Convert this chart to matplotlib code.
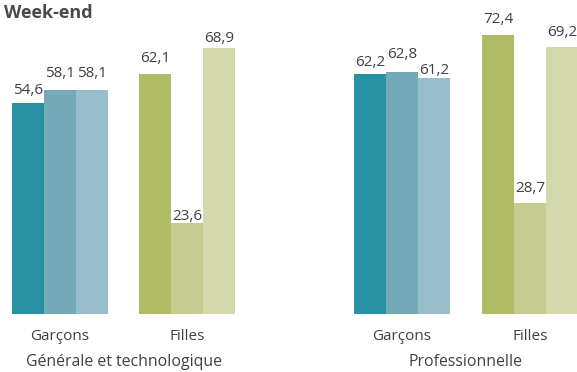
import matplotlib
matplotlib.use("Agg")
import matplotlib.pyplot as plt
from matplotlib.transforms import blended_transform_factory

# ---- data ----
groups = ["Générale et technologique", "Professionnelle"]
sexes = ["Garçons", "Filles"]
garcons_gt = [54.6, 58.1, 58.1]
filles_gt = [62.1, 23.6, 68.9]
garcons_pro = [62.2, 62.8, 61.2]
filles_pro = [72.4, 28.7, 69.2]
title = "Week-end"

# ---- style / layout ----
plt.rcParams['font.family'] = ['Open Sans', 'DejaVu Sans']
blues = ["#2890a3", "#74a9b8", "#9abdcc"]
greens = ["#b0bb66", "#c6cb8f", "#d4d9ac"]
text_col = "#404040"

W, H = 577, 372
fig = plt.figure(figsize=(W / 100, H / 100), dpi=100)
base_px = 314
scale = 3.86  # px per unit
ax = fig.add_axes([0, (H - base_px) / H, 1, base_px / H])
ax.set_xlim(0, W)
ax.set_ylim(0, base_px / scale)
ax.axis("off")

slot = 32
centers = [60, 187, 402, 530]
series = [garcons_gt, filles_gt, garcons_pro, filles_pro]
palettes = [blues, greens, blues, greens]
# label baseline gap above bar top, in px (layout)
gaps = [[9, 13, 13], [12, 3, 6], [8, 14, 4], [12, 11, 11]]

for c, vals, pal, gp in zip(centers, series, palettes, gaps):
    for i, (v, col, g) in enumerate(zip(vals, pal, gp)):
        x = c + (i - 1) * slot
        ax.bar(x, v, width=slot, color=col, linewidth=0)
        ax.annotate(f"{v:.1f}".replace(".", ","), xy=(x, v),
                    xytext=(0, g * 0.72), textcoords="offset points",
                    ha="center", va="baseline", fontsize=11, color=text_col)

trans = blended_transform_factory(ax.transData, fig.transFigure)
for k, c in enumerate(centers):
    ax.text(c, 1 - 340 / H, sexes[k % 2], transform=trans, ha="center",
            va="baseline", fontsize=11, color=text_col)
for g_i, name in enumerate(groups):
    gc = (centers[2 * g_i] + centers[2 * g_i + 1]) / 2
    ax.text(gc, 1 - 366 / H, name, transform=trans, ha="center",
            va="baseline", fontsize=11.4, color=text_col)

fig.text(4 / W, 1 - 18.5 / H, title, ha="left", va="baseline",
         fontsize=13, fontweight="bold", color="#4a4a4a")

fig.savefig("out.png", dpi=100)
